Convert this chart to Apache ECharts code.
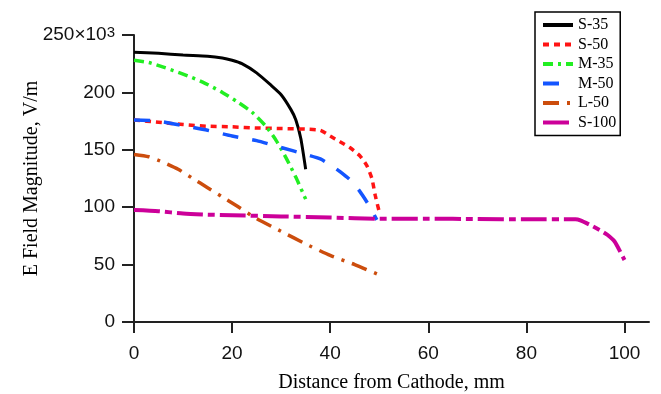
<!DOCTYPE html>
<html>
<head>
<meta charset="utf-8">
<script src="https://cdn.jsdelivr.net/npm/echarts@6/dist/echarts.min.js"></script>
<style>html,body{margin:0;padding:0;background:#fff}#c{width:661px;height:394px}</style>
</head>
<body>
<div id="c"></div>
<script>
// ---- data (x in mm, y in V/m / 1000) ----
const seriesNames = ['S-35', 'S-50', 'M-35', 'M-50', 'L-50', 'S-100'];
const S35 = [[0,235],[5,234],[10,232.5],[15,231.5],[18,230],[20,228],[22,225],[25,217],[28,206],[30,198],[32,185],[33,176],[34,160],[35,133]];
const S50 = [[0,176],[5,174],[10,172],[15,170.5],[20,170],[25,169],[30,168.5],[35,168],[38,167],[40,162],[42,157],[44,152],[46,145],[47.5,136],[48.5,125],[49.2,110],[50,96]];
const M35 = [[0,228],[3,226],[6,222],[10,216],[14,209],[18,200],[21,192],[24,183],[27,170],[29,158],[31,143],[33,126],[35,107]];
const M50 = [[0,176],[5,175],[10,171],[15,167],[20,162],[25,158],[30,152],[35,146],[38,142],[40,137],[42,131],[44,124],[46,114],[48,101],[49.5,89]];
const L50 = [[0,146],[3,144],[6,139],[9,133],[12,125],[15,117],[18,109],[21,101],[25,90],[30,79],[35,68],[40,58],[45,50],[50,41]];
const S100 = [[0,97.5],[5,96.5],[10,94.5],[15,93.5],[20,93],[30,92],[40,91],[50,90],[60,90],[70,89.7],[80,89.5],[90,89.4],[91,88.5],[93,84.5],[95,80],[96.5,76],[98,70],[100,54]];
const xTicks = [0, 20, 40, 60, 80, 100];
const yTicks = [0, 50, 100, 150, 200, 250];

const seriesData = [S35, S50, M35, M50, L50, S100];
const colors = ['#000000', '#ff1414', '#22ee22', '#1455ff', '#cc4d0d', '#cc0099'];
const dashes = ['solid', [6, 5], [10, 5, 3, 5], [16, 14], [16, 8, 3, 8], [26, 5, 7, 5]];
const widths = [3, 3.5, 3.5, 3.5, 3.5, 4];

const chart = echarts.init(document.getElementById('c'), null, {renderer: 'canvas'});
const axisCol = '#222';
chart.setOption({
  animation: false,
  backgroundColor: '#fff',
  grid: {left: 134, top: 35, right: 12, bottom: 72, containLabel: false, outerBoundsMode: 'none'},
  legend: {
    show: true,
    orient: 'vertical',
    left: 535, top: 12,
    padding: [5, 4, 5, 6],
    itemWidth: 30, itemHeight: 14, itemGap: 3.5,
    borderColor: '#000', borderWidth: 1.5,
    backgroundColor: '#fff',
    itemStyle: {color: 'rgba(0,0,0,0)', borderColor: 'rgba(0,0,0,0)', borderWidth: 0, opacity: 0},
    lineStyle: {width: 4},
    textStyle: {fontFamily: 'Liberation Serif', fontSize: 16, color: '#000'},
    data: seriesNames
  },
  xAxis: {
    type: 'value', min: 0, max: 105, interval: 20,
    name: 'Distance from Cathode, mm', nameLocation: 'middle', nameGap: 51,
    nameTextStyle: {fontFamily: 'Liberation Serif', fontSize: 20, color: '#000'},
    axisLine: {show: true, onZero: false, lineStyle: {color: axisCol, width: 2}},
    axisTick: {show: true, length: 11, inside: false, lineStyle: {color: axisCol, width: 2}, customValues: xTicks},
    axisLabel: {fontFamily: 'Liberation Sans', fontSize: 19, color: '#111', margin: 22, customValues: xTicks,
      formatter: v => (xTicks.indexOf(v) >= 0 ? String(v) : '')},
    splitLine: {show: false}
  },
  yAxis: {
    type: 'value', min: 0, max: 250, interval: 50,
    name: 'E Field Magnitude, V/m', nameLocation: 'middle', nameGap: 92,
    nameMoveOverlap: false,
    nameTextStyle: {fontFamily: 'Liberation Serif', fontSize: 20, color: '#000'},
    axisLine: {show: true, onZero: false, lineStyle: {color: axisCol, width: 2}},
    axisTick: {show: true, length: 12, inside: false, lineStyle: {color: axisCol, width: 2}, customValues: yTicks},
    axisLabel: {fontFamily: 'Liberation Sans', fontSize: 19, color: '#111', margin: 19, customValues: yTicks,
      formatter: v => (v === 250 ? '250×10{sup|3}' : String(v)),
      rich: {sup: {fontFamily: 'Liberation Sans', fontSize: 15, color: '#111', verticalAlign: 'top', padding: [0, 0, 5, 0]}}},
    splitLine: {show: false}
  },
  series: seriesNames.map((n, i) => ({
    name: n, type: 'line', data: seriesData[i],
    showSymbol: false, symbol: 'none', smooth: 0.2,
    lineStyle: {color: colors[i], width: widths[i], type: dashes[i], cap: 'butt'},
    itemStyle: {color: colors[i]},
    z: 2 + i
  }))
});
</script>
</body>
</html>
